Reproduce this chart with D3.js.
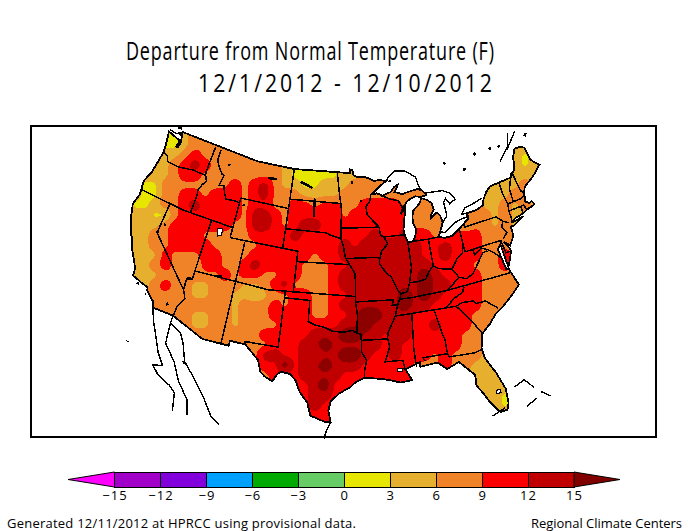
<!DOCTYPE html>
<html>
<head>
<meta charset="utf-8">
<title>Departure from Normal Temperature</title>
<style>
  html, body { margin: 0; padding: 0; background: #fff; }
  svg { display: block; }
  text { font-family: "Open Sans", "Liberation Sans", sans-serif; font-weight: 400; fill: #000; }
  .domain { display: none; }
</style>
<script src="https://d3js.org/d3.v7.min.js"></script>
</head>
<body>
<div id="chart"></div>
<script>
// departure values (F), rows north to south, columns west to east
var tempRows = [
[5,5,5,5,2,2,5,8,8,8,8,8,8,8,8,8,5,5,5,5,5,5,5,5,5,5,5,5,5,5,5,5,5,5,5,5,5,5,5,5,5,5,5],
[5,5,5,5,2,2,5,8,8,8,8,8,8,8,8,8,5,2,2,2,5,5,5,5,5,5,5,5,5,5,5,5,5,5,5,5,5,5,5,5,5,5,5],
[5,5,5,5,5,5,8,11,8,8,8,8,8,8,8,8,5,2,2,2,5,5,5,5,5,5,5,5,5,5,5,5,5,5,5,5,5,5,5,5,2,5,5],
[5,5,5,5,5,8,11,14,11,8,8,8,8,5,8,8,5,2,2,2,2,5,5,5,5,5,5,5,5,5,5,5,5,5,5,5,5,5,5,5,2,5,5],
[5,5,5,5,5,8,11,11,8,8,8,8,8,8,8,8,5,2,2,2,2,2,5,5,5,5,5,5,5,5,5,5,5,5,5,5,5,5,5,5,5,5,5],
[5,5,2,2,8,8,8,8,8,8,8,11,8,11,14,8,5,5,2,2,5,5,5,8,8,8,8,8,8,8,8,8,8,8,8,8,5,5,5,5,8,5,5],
[5,5,2,2,8,8,11,11,8,11,11,11,8,11,14,8,8,8,5,5,5,5,8,8,8,8,8,8,8,8,8,8,8,8,8,8,5,5,5,8,5,5,5],
[5,2,2,5,8,8,11,14,11,11,11,11,8,11,11,8,8,11,11,8,11,11,8,8,11,11,11,11,8,8,8,8,8,8,8,8,5,5,8,5,8,5,5],
[5,5,5,2,2,8,11,11,11,11,11,11,8,14,14,11,8,11,11,11,11,11,8,11,8,11,11,11,11,8,8,8,8,8,8,8,8,5,8,5,5,5,5],
[5,5,5,5,8,11,11,11,11,11,11,8,8,14,14,11,8,11,14,14,11,11,11,8,11,11,11,11,11,8,8,8,8,8,5,8,8,5,8,5,5,5,5],
[5,5,5,8,8,11,11,11,8,8,8,8,8,11,11,11,11,14,11,11,11,11,11,11,11,14,11,11,14,11,11,8,8,11,11,11,8,8,8,5,5,5,5],
[5,5,5,8,8,11,11,11,11,8,8,8,8,8,11,11,11,11,11,11,11,11,14,11,14,14,14,14,14,14,11,11,14,11,11,11,8,8,8,8,5,5,5],
[5,5,5,5,11,8,8,8,11,11,8,8,8,11,11,11,11,11,11,8,11,11,14,14,14,14,14,14,14,14,11,11,14,11,11,11,8,8,11,8,5,5,5],
[5,5,5,8,11,8,8,5,11,11,8,8,11,14,11,11,8,11,8,8,8,11,11,14,14,14,14,14,14,14,14,11,11,11,11,8,8,8,11,8,8,5,5],
[5,5,5,5,8,8,8,8,8,8,11,8,11,11,8,8,11,11,8,8,8,11,14,14,14,14,14,14,14,14,18,14,11,11,11,11,8,8,8,8,8,5,5],
[5,5,5,8,11,8,8,5,5,8,8,8,5,5,8,11,14,8,8,8,8,11,14,14,14,14,14,14,14,14,18,14,14,11,11,11,8,8,8,8,8,8,8],
[5,5,5,8,8,8,8,5,5,8,8,5,5,2,5,8,8,11,11,8,8,11,11,14,14,14,14,14,18,14,18,14,11,11,11,11,8,8,8,8,8,8,8],
[5,5,5,8,8,8,8,8,8,8,8,5,8,8,8,11,8,11,11,8,8,11,14,14,14,14,14,14,18,14,14,11,11,11,11,11,8,8,8,8,8,8,8],
[5,5,5,8,8,8,8,5,5,8,8,5,8,8,8,11,11,11,11,8,8,11,11,14,18,18,14,14,14,11,11,11,11,11,11,8,8,8,8,8,8,8,8],
[8,8,8,8,8,8,8,5,5,8,8,5,8,8,8,8,11,11,11,11,11,11,14,14,18,14,14,14,14,11,11,14,11,11,11,8,8,5,5,5,5,5,5],
[8,8,8,8,8,8,8,8,8,8,8,8,5,8,11,11,11,11,11,14,14,14,18,18,14,14,11,14,14,11,11,11,11,11,8,8,8,5,5,5,5,5,5],
[8,8,8,8,8,8,8,8,8,8,8,8,8,8,8,11,11,11,14,14,18,14,14,14,14,14,11,14,11,11,11,11,11,11,8,8,8,5,5,5,5,5,5],
[8,8,8,8,8,8,8,8,8,8,8,8,8,8,14,14,11,11,14,11,14,14,18,18,14,11,11,14,11,11,11,8,11,8,8,8,5,5,5,5,5,5,5],
[8,8,8,8,8,8,8,8,8,8,8,8,8,8,11,11,18,11,14,14,18,14,14,14,11,11,11,11,11,8,8,8,11,8,8,5,5,5,5,5,5,5,5],
[8,8,8,8,8,8,8,8,8,8,8,8,8,8,8,11,11,11,14,14,14,14,11,11,11,11,11,8,11,8,8,8,8,8,5,5,5,5,5,5,5,5,5],
[8,8,8,8,8,8,8,8,8,8,8,8,8,8,8,8,11,11,11,14,18,11,11,11,11,11,11,11,11,11,11,11,11,11,5,5,5,5,5,5,5,5,5],
[8,8,8,8,8,8,8,8,8,8,8,8,8,8,8,8,11,11,11,14,14,11,11,11,11,11,11,11,11,11,11,11,11,11,5,5,5,5,2,5,5,5,5],
[8,8,8,8,8,8,8,8,8,8,8,8,8,8,8,8,11,11,11,14,11,11,11,11,11,11,11,11,11,11,11,11,11,11,5,5,5,5,2,5,5,5,5],
[8,8,8,8,8,8,8,8,8,8,8,8,8,8,8,8,11,11,11,11,11,11,11,11,11,11,11,11,11,11,11,11,11,11,5,5,5,5,5,5,5,5,5],
[8,8,8,8,8,8,8,8,8,8,8,8,8,8,8,8,11,11,11,11,11,11,11,11,11,11,11,11,11,11,11,11,11,11,5,5,5,5,5,5,5,5,5]
];

var legendTicks = [-15, -12, -9, -6, -3, 0, 3, 6, 9, 12, 15];
var legendColors = ["#a000c8", "#8200dc", "#00a0ff", "#00aa00", "#66cc66", "#e6e600", "#e6af2d", "#f08228", "#fa0000", "#c00000"];
var lowColor = "#ff00ff";
var highColor = "#800000";
var mapLevels = [0, 3, 6, 9, 12, 15];
var mapColors = ["#e6e600", "#e6af2d", "#f08228", "#fa0000", "#c00000", "#8c0000"];

// lon/lat outlines
var usOutline = [[-122.75,49],[-110,49],[-104,49],[-95.15,49],[-95.15,49.38],[-94.8,49.3],[-94.6,48.75],[-93.8,48.55],[-92.9,48.6],[-92,48.3],[-91.4,48.07],[-90.8,48.2],[-89.6,48],[-90.3,47.7],[-91.2,47.2],[-92.1,46.75],[-91.2,46.85],[-90.7,46.7],[-90.4,46.55],[-89.1,46.85],[-88.4,47.35],[-87.9,47.47],[-88.5,46.8],[-87.4,46.5],[-86.2,46.65],[-85,46.75],[-84.4,46.5],[-84.1,46.2],[-83.9,46],[-84.7,45.9],[-85.5,46.05],[-86.3,45.9],[-86.9,45.7],[-87.6,45.1],[-88,44.55],[-87.3,45.1],[-87.5,44.3],[-87.9,43],[-87.8,42.3],[-87.5,41.7],[-86.9,41.75],[-86.5,42.1],[-86.2,42.8],[-86.5,43.6],[-86.4,44.2],[-86.2,44.7],[-85.6,45],[-85,45.4],[-84.75,45.78],[-84,45.5],[-83.4,45.1],[-83.3,44.4],[-83.9,43.9],[-83.9,43.65],[-83.4,43.9],[-82.95,44.07],[-82.6,43.7],[-82.45,43],[-82.9,42.4],[-83.15,42.05],[-83.45,41.72],[-82.7,41.5],[-81.7,41.5],[-80.5,42],[-79,42.7],[-78.9,42.9],[-79.05,43.25],[-77.5,43.27],[-76.5,43.5],[-76.2,44],[-75.5,44.6],[-74.7,45],[-71.5,45],[-71.3,45.3],[-70.8,45.4],[-70.3,45.9],[-70,46.7],[-69.2,47.45],[-68.3,47.35],[-67.8,47.07],[-67.8,45.7],[-67.45,45.3],[-67,44.85],[-68.2,44.3],[-69,44],[-70.2,43.6],[-70.7,43],[-70.8,42.6],[-71,42.3],[-70.6,41.95],[-70.2,42.05],[-70,41.65],[-70.6,41.55],[-71.2,41.5],[-71.9,41.3],[-73,41.2],[-73.7,40.9],[-72,41.05],[-73.6,40.58],[-74,40.6],[-74,40.4],[-74.1,39.7],[-74.9,38.95],[-75.5,39.5],[-75.1,38.75],[-75.05,38.4],[-75.6,37.6],[-75.95,37.15],[-76,38],[-76,39.4],[-76.5,39],[-76.4,38],[-76.3,37],[-76,36.9],[-75.5,35.25],[-76.5,34.65],[-77.9,33.9],[-79,33.4],[-79.9,32.7],[-81,32],[-81.4,30.8],[-81.3,29.9],[-80.55,28.4],[-80.05,26.9],[-80.15,25.7],[-80.4,25.2],[-81.1,25.15],[-81.8,26.1],[-82.2,26.9],[-82.75,27.8],[-82.65,28.7],[-83.4,29.5],[-84,30.1],[-85.3,29.7],[-86.2,30.4],[-87.5,30.3],[-88,30.25],[-88,30.65],[-88.9,30.4],[-89.6,30.2],[-89.4,29.9],[-89,29.2],[-90.2,29.1],[-91.3,29.4],[-92.2,29.55],[-93.8,29.7],[-94.7,29.35],[-95.3,28.9],[-96.4,28.35],[-97.2,27.7],[-97.4,26.9],[-97.15,25.95],[-97.6,25.9],[-99.1,26.4],[-99.5,27.5],[-100.3,28.3],[-100.8,29.25],[-101.4,29.77],[-102.3,29.88],[-102.7,29.7],[-103.15,28.98],[-104,29.3],[-104.5,29.65],[-104.9,30.6],[-106.5,31.75],[-108.2,31.78],[-108.2,31.33],[-111.07,31.33],[-114.8,32.5],[-117.12,32.53],[-117.3,33],[-118.4,33.75],[-118.5,34.03],[-119.2,34.15],[-120.5,34.45],[-120.65,35.15],[-121.9,36.6],[-122.5,37.5],[-123,38],[-123.8,39.3],[-124.35,40.4],[-124.1,41.5],[-124.5,42.85],[-124.1,44],[-123.95,46.2],[-124.1,46.9],[-124.7,48.38],[-123.1,48.15],[-122.75,48.15],[-122.4,47.4],[-122.3,48],[-122.75,49]];

var stateLines = [
[[-124,46.25],[-123.2,46.15],[-122.8,45.65],[-121.2,45.65],[-119.3,45.93],[-119,46],[-116.92,46]],
[[-117.03,49],[-117.04,46.4],[-116.92,46],[-116.5,45.5],[-116.9,45],[-117.2,44.4],[-117.03,43.8],[-117.03,42]],
[[-116.05,49],[-116.05,48],[-115.7,47.5],[-114.7,46.7],[-114.35,46.65],[-114.55,45.55],[-113.9,45.65],[-113.45,44.95],[-113,44.45],[-112.3,44.55],[-111.5,44.55],[-111.05,44.5]],
[[-124.2,42],[-118,42],[-111.05,42]],
[[-111.05,45],[-111.05,41]],
[[-111.05,45],[-104.05,45]],
[[-104.05,49],[-104.05,41]],
[[-104.05,45.94],[-96.56,45.94]],
[[-104.05,43],[-98.5,43],[-97.9,42.8],[-96.45,42.5]],
[[-111.05,41],[-102.05,41]],
[[-102.05,41],[-102.05,37]],
[[-102.05,40],[-95.3,40]],
[[-109.05,41],[-109.05,31.33]],
[[-114.05,42],[-114.05,36.2],[-114.7,36.1],[-114.6,35],[-114.15,34.3],[-114.7,33.4],[-114.75,32.6]],
[[-120,42],[-120,39],[-114.6,35]],
[[-114.05,37],[-105,37],[-94.62,37]],
[[-103,37],[-103,32],[-106.6,32],[-106.5,31.75]],
[[-103,36.5],[-100,36.5],[-100,34.56],[-99.2,34.3],[-98,34.1],[-97.2,33.8],[-96,33.75],[-95,33.9],[-94.48,33.64],[-94.05,33.55],[-94.05,32],[-93.55,31.2],[-93.8,30.2],[-93.8,29.7]],
[[-94.62,36.5],[-94.43,35.4],[-94.48,33.64]],
[[-94.05,33],[-91.15,33]],
[[-94.62,36.5],[-90.15,36.5],[-90.35,36],[-89.7,36]],
[[-95.3,40],[-94.6,39.1],[-94.62,36.5]],
[[-95.77,40.58],[-91.7,40.6],[-91.42,40.38]],
[[-96.45,42.5],[-96.1,41.7],[-95.85,40.7],[-95.3,40]],
[[-97.2,49],[-96.8,47],[-96.56,45.94],[-96.45,45.3],[-96.45,42.5]],
[[-96.45,43.5],[-91.2,43.5]],
[[-92.1,46.75],[-92.3,46.1],[-92.9,45.6],[-92.75,44.75],[-91.2,43.5],[-91.1,42.7],[-90.65,42.5],[-90.2,41.8],[-91.1,41.2],[-91.42,40.38],[-91.5,40],[-90.7,39],[-90.2,38.7],[-89.5,37.3],[-89.15,37],[-89.7,36],[-90.1,35],[-91.1,33.5],[-91.15,33],[-91,32.3],[-91.6,31],[-89.75,31],[-89.6,30.2]],
[[-90.65,42.5],[-87.8,42.5]],
[[-90.4,46.55],[-89.1,46.1],[-88.1,45.9],[-87.8,45.35],[-87.6,45.1]],
[[-87.53,41.7],[-87.53,39.3],[-88,37.9]],
[[-89.15,37],[-88.4,37.1],[-88,37.9],[-87,37.9],[-86,38],[-85.4,38.7],[-84.8,39.1],[-84.3,38.8],[-83.7,38.65],[-82.6,38.45],[-82,39],[-81.7,39.3],[-80.85,39.7],[-80.52,40.64]],
[[-84.8,39.1],[-84.8,41.7]],
[[-86.8,41.76],[-84.8,41.7],[-83.45,41.72]],
[[-80.52,39.72],[-80.52,42]],
[[-79.76,42.27],[-79.76,42],[-75.35,42],[-74.7,41.36],[-75.1,40.9],[-74.75,40.2],[-75.4,39.8]],
[[-80.52,39.72],[-75.79,39.72],[-75.7,38.46],[-75.05,38.45]],
[[-79.48,39.72],[-79.48,39.2],[-78.4,39.6],[-77.7,39.3],[-77.05,38.8],[-76.3,38]],
[[-81.97,37.54],[-81.2,37.25],[-80.3,37.5],[-79.3,38.4],[-78.4,39.15],[-77.8,39.2]],
[[-83.67,36.6],[-82,37.54],[-82.6,38.45]],
[[-89.5,36.5],[-88.05,36.5],[-83.67,36.6],[-75.9,36.55]],
[[-81.68,36.59],[-82,36.1],[-83.1,35.75],[-84.32,35]],
[[-90.1,35],[-83.1,35],[-82.3,35.2],[-81,35.1],[-80.8,34.8],[-79.7,34.8],[-78.55,33.86]],
[[-83.1,35],[-82.6,34.5],[-81.5,33],[-80.9,32.05]],
[[-85.6,35],[-85.2,32.9],[-85,32.3],[-85,31]],
[[-88.2,35],[-88.45,31.9],[-88.4,30.3]],
[[-87.4,30.65],[-87.6,31],[-85,31],[-84.87,30.7],[-82.2,30.57],[-81.5,30.7]],
[[-73.35,45],[-73.4,43.6],[-73.25,42.75],[-73.5,42.05],[-73.5,41.3],[-73.65,41]],
[[-74.7,41.36],[-74,41]],
[[-71.5,45],[-72.3,44],[-72.45,42.73]],
[[-73.25,42.75],[-71.3,42.7],[-70.8,42.87]],
[[-73.5,42.05],[-71.38,42.02],[-71.2,41.5]],
[[-71.8,42.02],[-71.85,41.3]],
[[-71.05,45.3],[-70.95,43.4],[-70.7,43.05]]
];

var foreignCoasts = [
[[-117.12,32.53],[-116.6,31.5],[-115.8,30.3],[-115,29],[-114.2,28.1],[-115.1,27.85],[-114.3,27.2],[-113,26.7],[-112.3,26.2],[-112,24.7]],
[[-114.8,31.8],[-114.7,30.9],[-114.6,30],[-113.2,28.7],[-112.2,27.2],[-111,26],[-110.6,24.7]],
[[-114.8,32.5],[-114.8,31.8],[-113.5,31.3],[-112.9,30.5],[-112.2,29],[-110.9,27.9],[-109.5,26.5],[-108.4,25.1],[-107.5,24.6]],
[[-97.15,25.95],[-97.6,25],[-97.7,24.5]],
[[-89.6,48],[-89.2,48.4],[-88.2,48.9],[-86.5,48.75],[-85,47.95],[-84.8,47],[-84.5,46.5]],
[[-84.1,46.2],[-83,46.15],[-81.5,46.05],[-80.5,45.6],[-80,44.9],[-80.9,44.6],[-81.3,45.2],[-81.7,44.9],[-81.7,43.5],[-82.45,43]],
[[-83.1,42.2],[-82.5,42],[-81,42.65],[-80,42.85],[-79,42.9]],
[[-79.05,43.25],[-79.7,43.3],[-79,43.8],[-77.5,44],[-76.4,44.2]],
[[-72,46.9],[-70.1,47.9],[-69.1,49.2]],
[[-70.3,47.7],[-68,49]],
[[-122.75,49],[-123.5,48.55],[-124.7,48.6]],
[[-79.2,26.84],[-78.1,27.2],[-77.4,26.3]],
[[-76.9,25.8],[-76.2,25.2]],
[[-78.6,25],[-77.5,25.4]],
[[-81.9,25],[-80.6,25.4]]
];

var smallLakes = [
[[-107.9,47.6],[-106.4,47.7]], [[-102.8,47.8],[-101.5,47.5],[-100.9,47.3]], [[-100.4,46.3],[-100.4,45.2],[-100.3,44.5]],
[[-114.1,47.9],[-114.1,47.7]], [[-110.4,44.5],[-110.4,44.3]], [[-119.9,39.2],[-120,39]], [[-119.5,40.1],[-119.5,39.9]],
[[-115.9,33.4],[-115.7,33.2]], [[-111.4,37.1],[-110.8,37.3]], [[-114.7,36.1],[-114.2,36.2]], [[-95,48.1],[-94.7,48]],
[[-93.6,46.3],[-93.6,46.1]], [[-80.3,48.6],[-80,48.7]], [[-77.7,47.5],[-77.3,47.4]], [[-75.4,48.5],[-75,48.7]],
[[-72.9,48.5],[-72.5,48.5]], [[-71.5,48.3],[-71,48.4]], [[-67,48.1],[-66.6,48.3]], [[-118.4,33.4],[-118.5,33.35]],
[[-119.8,34],[-119.5,34]], [[-118.3,29],[-118.3,28.9]], [[-112.3,29],[-112.2,28.8]], [[-89.2,48],[-88.9,47.9]],
[[-122.6,47.3],[-122.5,48.2]], [[-123,48.6],[-122.8,48.9]], [[-123.8,49.2],[-123.1,49.3]]
];

var whiteLakes = [
[[-112.9,41.5],[-112.3,41.6],[-112.2,41],[-112.7,40.8]],
[[-81,27],[-80.6,27],[-80.6,26.7],[-81,26.7]],
[[-90.4,30.3],[-89.8,30.3],[-89.9,30.05],[-90.4,30.05]]
];

var width = 688, height = 531;
var svg = d3.select("#chart").append("svg").attr("width", width).attr("height", height);

// polar stereographic view of the lower 48, a little narrower across than tall
var proj = d3.geoStereographic().rotate([95.5, -90]).scale(990).translate([349, -197]).clipAngle(120);
var squeezeX = d3.scaleLinear().domain([349, 350]).range([348, 348.975]);
var mapLine = d3.line().x(d => squeezeX(proj(d)[0])).y(d => proj(d)[1]);

svg.append("clipPath").attr("id", "usClip").append("path").attr("d", mapLine(usOutline) + "Z");

// temperature field sits on a regular grid across the plot, resampled finer so the bands come out rounded
var nx = tempRows[0].length, ny = tempRows.length, fine = 4;
var fx = (nx - 1) * fine + 1, fy = (ny - 1) * fine + 1;
var fineValues = new Array(fx * fy);
for (var j = 0; j < fy; j++) {
    for (var i = 0; i < fx; i++) {
        var gx = i / fine, gy = j / fine;
        var x0 = Math.min(Math.floor(gx), nx - 2), y0 = Math.min(Math.floor(gy), ny - 2);
        var tx = gx - x0, ty = gy - y0;
        fineValues[j * fx + i] = (tempRows[y0][x0] * (1 - tx) + tempRows[y0][x0 + 1] * tx) * (1 - ty)
            + (tempRows[y0 + 1][x0] * (1 - tx) + tempRows[y0 + 1][x0 + 1] * tx) * ty;
    }
}
// a couple of passes of a small blur
function blurPass(v) {
    var out = v.slice();
    for (var j = 1; j < fy - 1; j++) {
        for (var i = 1; i < fx - 1; i++) {
            var k = j * fx + i;
            out[k] = (v[k] * 4 + (v[k - 1] + v[k + 1] + v[k - fx] + v[k + fx]) * 2
                + v[k - fx - 1] + v[k - fx + 1] + v[k + fx - 1] + v[k + fx + 1]) / 16;
        }
    }
    return out;
}
for (var p = 0; p < 2; p++) fineValues = blurPass(fineValues);

var contours = d3.contours().size([fx, fy]).thresholds(mapLevels)(fineValues);
var gridX = d3.scaleLinear().domain([0, nx - 1]).range([125, 545]);
var gridY = d3.scaleLinear().domain([0, ny - 1]).range([135, 425]);
var gridPath = d3.geoPath(d3.geoTransform({
    point: function(x, y) { this.stream.point(gridX((x - 0.5) / fine), gridY((y - 0.5) / fine)); }
}));

var field = svg.append("g").attr("clip-path", "url(#usClip)").attr("shape-rendering", "crispEdges");
field.append("path").attr("d", mapLine(usOutline) + "Z").attr("fill", mapColors[1]);
field.selectAll("path.band").data(contours).enter().append("path")
    .attr("class", "band")
    .attr("d", gridPath)
    .attr("fill", (d, i) => mapColors[i]);

var lines = svg.append("g").attr("fill", "none").attr("stroke", "#000").attr("shape-rendering", "crispEdges");
lines.selectAll("path.state").data(stateLines).enter().append("path")
    .attr("class", "state").attr("d", mapLine).attr("stroke-width", 1.5);
lines.selectAll("path.foreign").data(foreignCoasts).enter().append("path")
    .attr("class", "foreign").attr("d", mapLine).attr("stroke-width", 1.4);
lines.append("path").attr("d", mapLine(usOutline) + "Z").attr("stroke-width", 1.8);
lines.selectAll("path.lake").data(smallLakes).enter().append("path")
    .attr("class", "lake").attr("d", mapLine).attr("stroke-width", 2.5);
lines.selectAll("path.white").data(whiteLakes).enter().append("path")
    .attr("class", "white").attr("d", d => mapLine(d) + "Z").attr("fill", "#fff").attr("stroke-width", 1.2);

// plot frame
svg.append("rect").attr("x", 31).attr("y", 126).attr("width", 625).attr("height", 311)
    .attr("fill", "none").attr("stroke", "#000").attr("stroke-width", 2).attr("shape-rendering", "crispEdges");

// title, squeezed sideways and spaced out like the plotter lettering
var squeeze = 0.72, squeezeDigits = 0.85;
svg.append("text").attr("transform", "translate(126,60) scale(" + squeeze + ",1)").attr("font-size", 25)
    .attr("textLength", 368 / squeeze).attr("lengthAdjust", "spacing")
    .text("Departure from Normal Temperature (F)");
svg.append("text").attr("transform", "translate(198,92) scale(" + squeezeDigits + ",1)").attr("font-size", 25)
    .attr("textLength", 294 / squeezeDigits).attr("lengthAdjust", "spacing")
    .text("12/1/2012 - 12/10/2012");

// colour legend
var legendX = d3.scaleLinear().domain([-15, 15]).range([114.5, 574]);
var legendTop = 472, legendBottom = 487, legendMid = (legendTop + legendBottom) / 2;
var legend = svg.append("g");
legend.selectAll("rect").data(legendColors).enter().append("rect")
    .attr("x", (d, i) => legendX(legendTicks[i]))
    .attr("y", legendTop)
    .attr("width", (d, i) => legendX(legendTicks[i + 1]) - legendX(legendTicks[i]))
    .attr("height", legendBottom - legendTop)
    .attr("fill", d => d)
    .attr("stroke", "#000").attr("stroke-width", 1).attr("shape-rendering", "crispEdges");
legend.append("path")
    .attr("d", d3.line()([[legendX(-15), legendTop], [68, legendMid], [legendX(-15), legendBottom]]) + "Z")
    .attr("fill", lowColor).attr("stroke", "#000");
legend.append("path")
    .attr("d", d3.line()([[legendX(15), legendTop], [620, legendMid], [legendX(15), legendBottom]]) + "Z")
    .attr("fill", highColor).attr("stroke", "#000");

var legendAxis = svg.append("g").attr("transform", "translate(0," + legendBottom + ")")
    .call(d3.axisBottom(legendX).tickValues(legendTicks).tickSize(0).tickPadding(4));
legendAxis.selectAll("text").attr("font-size", 13).style("font-family", "'Open Sans', sans-serif").style("font-weight", 400).style("letter-spacing", "1px").attr("fill", "#000");

// footer
svg.append("text").attr("x", 7).attr("y", 528).attr("font-size", 13)
    .attr("textLength", 349).attr("lengthAdjust", "spacing")
    .text("Generated 12/11/2012 at HPRCC using provisional data.");
svg.append("text").attr("x", 531).attr("y", 528).attr("font-size", 13)
    .attr("textLength", 151).attr("lengthAdjust", "spacing")
    .text("Regional Climate Centers");
</script>
</body>
</html>
